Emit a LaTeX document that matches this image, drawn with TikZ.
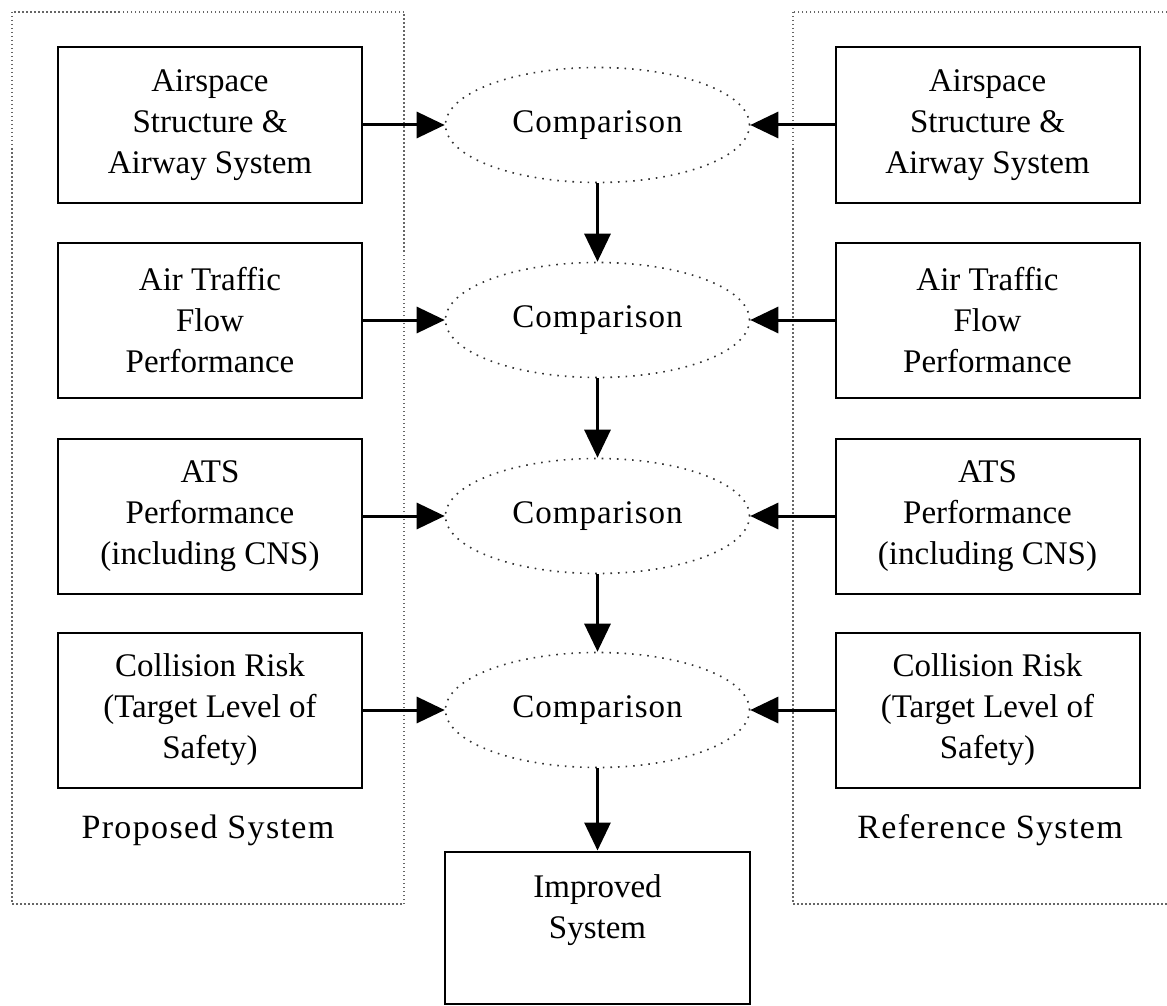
\documentclass[tikz,border=0pt]{standalone}
\usepackage{fontspec}
\setmainfont{Liberation Serif}
\usetikzlibrary{arrows.meta,shapes.geometric}
\begin{document}
\begin{tikzpicture}[x=1pt,y=-1pt,
  every node/.style={font=\fontsize{33}{41}\selectfont, align=center, inner sep=0pt},
  sysbox/.style={draw=black, line width=2pt, minimum width=304pt, minimum height=155pt},
  cmp/.style={ellipse, draw=black!80, line width=1.6pt, dash pattern=on 1.6pt off 6pt,
              minimum width=304pt, minimum height=115pt,
              font=\fontsize{33}{41}\selectfont\addfontfeature{LetterSpace=3}},
  frame/.style={draw=black!60, line width=1.5pt, dash pattern=on 1.5pt off 2.5pt},
  flow/.style={draw=black, line width=3pt, -{Triangle[length=28pt,width=26pt]}},
  caption/.style={font=\fontsize{34}{40}\selectfont\addfontfeature{LetterSpace=4}}
]
\clip (0,0) rectangle (1167,1006);
\fill[white] (0,0) rectangle (1167,1006);

% system frames
\draw[frame] (12,12) rectangle (404,904);
\draw[frame] (793,12) rectangle (1180,904);

% proposed system
\node[sysbox] (p1) at (210,125) {Airspace\\Structure \&\\Airway System};
\node[sysbox] (p2) at (210,320) {Air Traffic\\Flow\\Performance};
\node[sysbox] (p3) at (210,516) {ATS\\Performance\\(including CNS)};
\node[sysbox] (p4) at (210,710) {Collision Risk\\(Target Level of\\Safety)};

% reference system
\node[sysbox] (r1) at (987.5,125) {Airspace\\Structure \&\\Airway System};
\node[sysbox] (r2) at (987.5,320) {Air Traffic\\Flow\\Performance};
\node[sysbox] (r3) at (987.5,516) {ATS\\Performance\\(including CNS)};
\node[sysbox] (r4) at (987.5,710) {Collision Risk\\(Target Level of\\Safety)};

% comparisons
\node[cmp] (c1) at (597.5,125) {Comparison};
\node[cmp] (c2) at (597.5,320) {Comparison};
\node[cmp] (c3) at (597.5,516) {Comparison};
\node[cmp] (c4) at (597.5,710) {Comparison};

% result
\node[draw=black, line width=2pt, minimum width=305pt, minimum height=152pt] (imp) at (597.5,927.5) {};
\node (impt) at (597.5,910) {Improved\\System};

% captions
\node[caption] (pcap) at (208,830) {Proposed System};
\node[caption] (rcap) at (990,830) {Reference System};

% arrows
\foreach \i in {1,...,4}{
  \draw[flow] (p\i.east) -- (c\i.west);
  \draw[flow] (r\i.west) -- (c\i.east);
}
\draw[flow] (c1.south) -- (c2.north);
\draw[flow] (c2.south) -- (c3.north);
\draw[flow] (c3.south) -- (c4.north);
\draw[flow] (c4.south) -- (imp.north);
\end{tikzpicture}
\end{document}
